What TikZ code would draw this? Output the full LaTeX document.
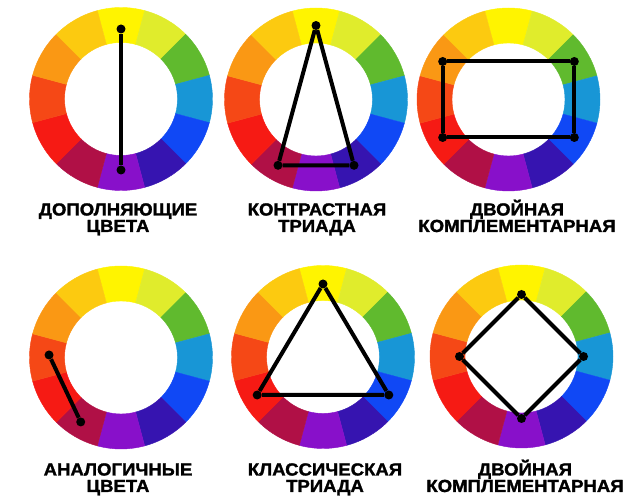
\documentclass[tikz,border=0pt]{standalone}
\usepackage{fontspec}
\setmainfont{Liberation Sans}

\definecolor{cY}{RGB}{255,244,0}
\definecolor{cYG}{RGB}{224,236,44}
\definecolor{cG}{RGB}{96,186,46}
\definecolor{cC}{RGB}{24,150,214}
\definecolor{cB}{RGB}{16,72,245}
\definecolor{cI}{RGB}{54,20,176}
\definecolor{cV}{RGB}{136,16,202}
\definecolor{cM}{RGB}{176,16,70}
\definecolor{cR}{RGB}{246,26,20}
\definecolor{cRO}{RGB}{245,72,22}
\definecolor{cO}{RGB}{250,152,20}
\definecolor{cYO}{RGB}{252,202,16}

\tikzset{
    wheel/.pic = {
        \foreach \col [count=\i from 0] in {cY,cYG,cG,cC,cB,cI,cV,cM,cR,cRO,cO,cYO} {
            \pgfmathsetmacro{\a}{90-30*\i}
            \fill [\col, draw=\col, line width=0.4pt] (\a+15:\ro) arc [start angle=\a+15, end angle=\a-15, radius=\ro] -- (\a-15:\ri) arc [start angle=\a-15, end angle=\a+15, radius=\ri] -- cycle;
        }
    },
    link/.style = {line width=4pt, line join=round},
    dot/.style = {circle, fill=black, inner sep=0pt, minimum size=9pt},
    caption/.style = {anchor=base, align=center, font=\bfseries\fontsize{17.5}{16.5}\selectfont\addfontfeatures{FakeBold=1.6, FakeStretch=1.06}}
}

\begin{document}
\begin{tikzpicture}[x=1pt, y=1pt]
    \pgfmathsetmacro{\ro}{91.5};
    \pgfmathsetmacro{\ri}{56.5};
    \useasboundingbox (0, 0) rectangle (633, 500);

    \begin{scope}[shift={(121, 401)}]
        \pic {wheel};
        \node [dot] (a1) at (90:70) {};
        \node [dot] (a2) at (-90:71) {};
        \draw [link] (a1) -- (a2);
    \end{scope}
    \begin{scope}[shift={(316, 400.5)}]
        \pic {wheel};
        \node [dot] (b1) at (90:74) {};
        \node [dot] (b2) at (-60:76) {};
        \node [dot] (b3) at (-120:76) {};
        \draw [link] (b1) -- (b2) -- (b3) -- (b1);
    \end{scope}
    \begin{scope}[shift={(508.5, 400.5)}]
        \pic {wheel};
        \node [dot] (c1) at (150:76) {};
        \node [dot] (c2) at (30:76) {};
        \node [dot] (c3) at (-30:76) {};
        \node [dot] (c4) at (-150:76) {};
        \draw [link] (c1) -- (c2) -- (c3) -- (c4) -- (c1);
    \end{scope}
    \begin{scope}[shift={(121, 142.5)}]
        \pic {wheel};
        \node [dot] (d1) at (178:72) {};
        \node [dot] (d2) at (-122:76) {};
        \draw [link] (d1) -- (d2);
    \end{scope}
    \begin{scope}[shift={(323, 143)}]
        \pic {wheel};
        \node [dot] (e1) at (90:73) {};
        \node [dot] (e2) at (-30:76) {};
        \node [dot] (e3) at (-150:76) {};
        \draw [link] (e1) -- (e2) -- (e3) -- (e1);
    \end{scope}
    \begin{scope}[shift={(521.5, 143.5)}]
        \pic {wheel};
        \node [dot] (f1) at (90:62) {};
        \node [dot] (f2) at (0:62) {};
        \node [dot] (f3) at (-90:62) {};
        \node [dot] (f4) at (180:62) {};
        \draw [link] (f1) -- (f2) -- (f3) -- (f4) -- (f1);
    \end{scope}

    \node [caption] (t1) at (118, 268) {ДОПОЛНЯЮЩИЕ\\ЦВЕТА};
    \node [caption] (t2) at (317, 268) {КОНТРАСТНАЯ\\ТРИАДА};
    \node [caption] (t3) at (517, 268) {ДВОЙНАЯ\\КОМПЛЕМЕНТАРНАЯ};
    \node [caption] (t4) at (118, 8) {АНАЛОГИЧНЫЕ\\ЦВЕТА};
    \node [caption] (t5) at (325, 8) {КЛАССИЧЕСКАЯ\\ТРИАДА};
    \node [caption] (t6) at (525, 8) {ДВОЙНАЯ\\КОМПЛЕМЕНТАРНАЯ};
\end{tikzpicture}
\end{document}
